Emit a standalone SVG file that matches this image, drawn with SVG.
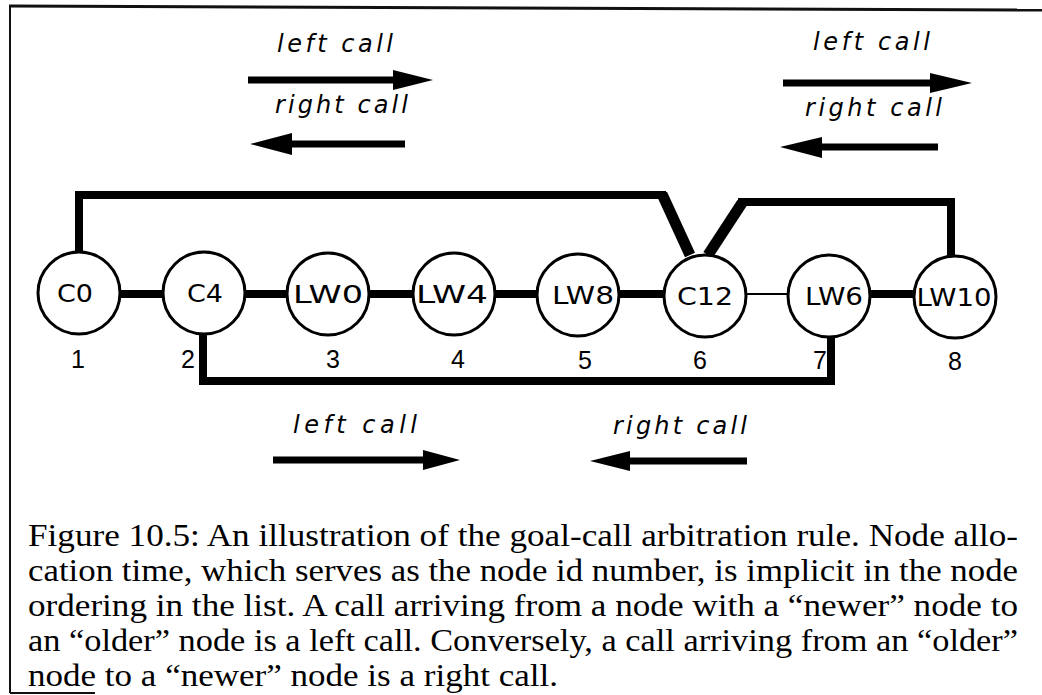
<svg xmlns="http://www.w3.org/2000/svg" width="1042" height="695" viewBox="0 0 1042 695">
<style>
.frame{stroke:#111;fill:none}
.node circle{fill:#fff;stroke:#000;stroke-width:3}
.node text.lbl{font-family:"DejaVu Sans","Liberation Sans",sans-serif;font-size:24px;fill:#000;text-anchor:middle}
.node text.num{font-family:"Liberation Sans",Arial,sans-serif;font-size:25px;fill:#000;text-anchor:middle}
.thick{stroke:#000;stroke-width:8;fill:none}
.diag{stroke:#000;stroke-width:11;fill:none}
.thin{stroke:#000;stroke-width:2;fill:none}
.shaft{stroke:#000;stroke-width:7;fill:none}
.head{fill:#000}
.call{font-family:"DejaVu Sans","Liberation Sans",sans-serif;font-style:italic;font-size:24px;fill:#000}
.cap{font-family:"Liberation Serif","Times New Roman",serif;font-size:32px;fill:#000}
</style>
<rect width="1042" height="695" fill="#fff"/>
<g id="frame">
<line class="frame" x1="9" y1="6" x2="1042" y2="10" stroke-width="3"/>
<line class="frame" x1="10" y1="5" x2="10" y2="693" stroke-width="2"/>
<line class="frame" x1="10" y1="693" x2="95" y2="693" stroke-width="2"/>
</g>
<g id="connectors">
<line class="thick" x1="116" y1="294" x2="166" y2="294"/>
<line class="thick" x1="244" y1="294" x2="290" y2="294"/>
<line class="thick" x1="362" y1="294" x2="414" y2="294"/>
<line class="thick" x1="492" y1="294" x2="538" y2="294"/>
<line class="thick" x1="613" y1="294" x2="666" y2="294"/>
<line class="thin" x1="745" y1="294" x2="789" y2="294"/>
<line class="thick" x1="862" y1="294" x2="916" y2="294"/>
<path class="thick" d="M79,254 V195 H666"/>
<line class="diag" x1="662" y1="194" x2="690" y2="255"/>
<line class="diag" x1="708" y1="255" x2="742" y2="203"/>
<path class="thick" d="M738,202 H951 V258"/>
<path class="thick" d="M203,326 V381 H831 V328"/>
</g>
<g id="node-C0" class="node"><circle cx="79" cy="293" r="41"/><text class="lbl" x="75" y="302" textLength="36" lengthAdjust="spacingAndGlyphs">C0</text><text class="num" x="78" y="368">1</text></g>
<g id="node-C4" class="node"><circle cx="204" cy="293" r="41"/><text class="lbl" x="205" y="302" textLength="36" lengthAdjust="spacingAndGlyphs">C4</text><text class="num" x="188" y="368">2</text></g>
<g id="node-LW0" class="node"><circle cx="328" cy="294" r="41"/><text class="lbl" x="328" y="303" textLength="70" lengthAdjust="spacingAndGlyphs">LW0</text><text class="num" x="333" y="368">3</text></g>
<g id="node-LW4" class="node"><circle cx="454" cy="294" r="41"/><text class="lbl" x="452" y="303" textLength="72" lengthAdjust="spacingAndGlyphs">LW4</text><text class="num" x="458" y="368">4</text></g>
<g id="node-LW8" class="node"><circle cx="578" cy="295" r="41"/><text class="lbl" x="583" y="304" textLength="62" lengthAdjust="spacingAndGlyphs">LW8</text><text class="num" x="585" y="369">5</text></g>
<g id="node-C12" class="node"><circle cx="705" cy="296" r="41"/><text class="lbl" x="705" y="305" textLength="56" lengthAdjust="spacingAndGlyphs">C12</text><text class="num" x="700" y="369">6</text></g>
<g id="node-LW6" class="node"><circle cx="829" cy="296" r="41"/><text class="lbl" x="834" y="305" textLength="58" lengthAdjust="spacingAndGlyphs">LW6</text><text class="num" x="820" y="369">7</text></g>
<g id="node-LW10" class="node"><circle cx="955" cy="297" r="41"/><text class="lbl" x="954" y="306" textLength="75" lengthAdjust="spacingAndGlyphs">LW10</text><text class="num" x="955" y="370">8</text></g>
<g id="legend-top-left">
<text class="call" x="277" y="52" textLength="116" lengthAdjust="spacing">left call</text>
<line class="shaft" x1="248" y1="80" x2="396" y2="80"/>
<polygon class="head" points="393,70 433,80 393,90"/>
<text class="call" x="275" y="113" textLength="133" lengthAdjust="spacing">right call</text>
<line class="shaft" x1="289" y1="144" x2="405" y2="144"/>
<polygon class="head" points="250,144 292,133 292,155"/>
</g>
<g id="legend-top-right">
<text class="call" x="813" y="50" textLength="117" lengthAdjust="spacing">left call</text>
<line class="shaft" x1="783" y1="83" x2="933" y2="83"/>
<polygon class="head" points="930,73 972,83 930,93"/>
<text class="call" x="805" y="116" textLength="137" lengthAdjust="spacing">right call</text>
<line class="shaft" x1="819" y1="147" x2="938" y2="147"/>
<polygon class="head" points="780,147 822,137 822,158"/>
</g>
<g id="legend-bottom">
<text class="call" x="293" y="433" textLength="124" lengthAdjust="spacing">left call</text>
<line class="shaft" x1="273" y1="460" x2="426" y2="460"/>
<polygon class="head" points="423,450 460,460 423,470"/>
<text class="call" x="613" y="434" textLength="134" lengthAdjust="spacing">right call</text>
<line class="shaft" x1="627" y1="461" x2="747" y2="461"/>
<polygon class="head" points="590,461 630,451 630,471"/>
</g>
<g id="caption">
<text class="cap" x="28" y="546" textLength="990" lengthAdjust="spacingAndGlyphs">Figure 10.5: An illustration of the goal-call arbitration rule. Node allo-</text>
<text class="cap" x="28" y="581" textLength="990" lengthAdjust="spacingAndGlyphs">cation time, which serves as the node id number, is implicit in the node</text>
<text class="cap" x="28" y="616" textLength="990" lengthAdjust="spacingAndGlyphs">ordering in the list. A call arriving from a node with a “newer” node to</text>
<text class="cap" x="28" y="651" textLength="990" lengthAdjust="spacingAndGlyphs">an “older” node is a left call. Conversely, a call arriving from an “older”</text>
<text class="cap" x="28" y="686" textLength="530" lengthAdjust="spacingAndGlyphs">node to a “newer” node is a right call.</text>
</g>
</svg>
